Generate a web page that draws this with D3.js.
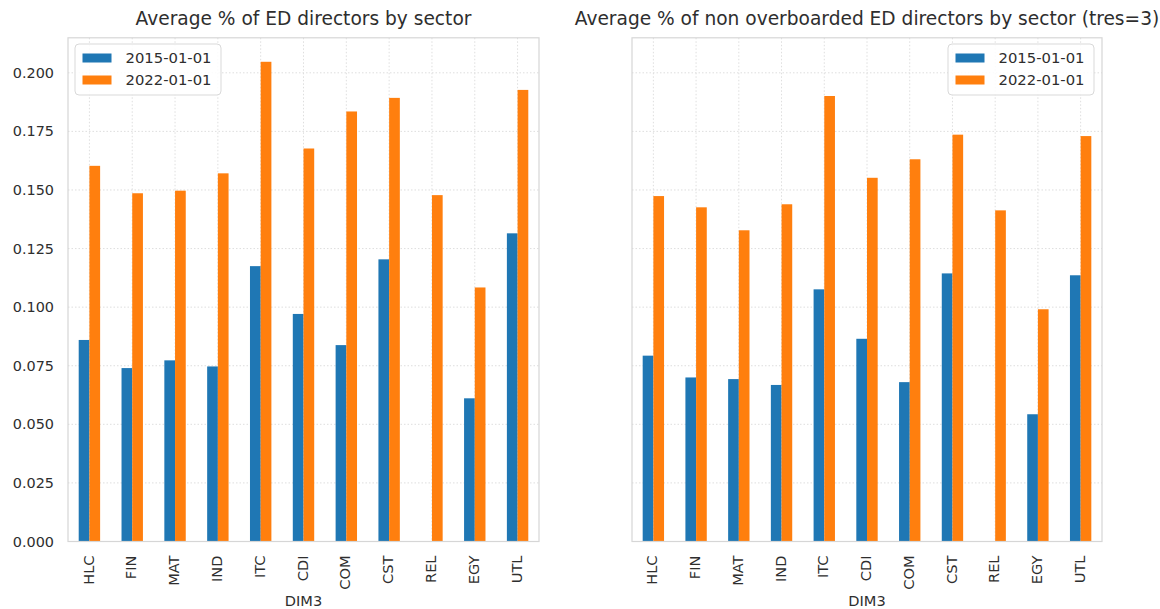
<!DOCTYPE html>
<html>
<head>
<meta charset="utf-8">
<script src="https://cdn.jsdelivr.net/npm/d3@7"></script>
<style>
  html, body { margin: 0; padding: 0; background: #fff; }
  svg text { font-family: "DejaVu Sans", sans-serif; fill: #2e2e2e; }
</style>
</head>
<body>
<svg id="chart" width="1160" height="609"></svg>
<script>
// Sector codes on the x axis
const sectors = ["HLC", "FIN", "MAT", "IND", "ITC", "CDI", "COM", "CST", "REL", "EGY", "UTL"];
const seriesNames = ["2015-01-01", "2022-01-01"];
const seriesColors = ["#1f77b4", "#ff7f0e"];

// Average share of ED directors (all directors)
const allDirectors2015 = [0.0860, 0.0740, 0.0773, 0.0747, 0.1175, 0.0971, 0.0838, 0.1204, null, 0.0611, 0.1315];
const allDirectors2022 = [0.1603, 0.1486, 0.1497, 0.1571, 0.2047, 0.1677, 0.1835, 0.1893, 0.1478, 0.1084, 0.1927];

// Average share of non overboarded ED directors (threshold 3)
const nonOverboarded2015 = [0.0793, 0.0700, 0.0693, 0.0668, 0.1076, 0.0865, 0.0680, 0.1144, null, 0.0543, 0.1136];
const nonOverboarded2022 = [0.1474, 0.1426, 0.1328, 0.1439, 0.1901, 0.1552, 0.1631, 0.1736, 0.1413, 0.0991, 0.1730];

const yTicks = [0, 0.025, 0.05, 0.075, 0.1, 0.125, 0.15, 0.175, 0.2];

const panels = [
  { title: "Average % of ED directors by sector", series: [allDirectors2015, allDirectors2022],
    x0: 68, x1: 539, showY: true, legend: "left" },
  { title: "Average % of non overboarded ED directors by sector (tres=3)", series: [nonOverboarded2015, nonOverboarded2022],
    x0: 632, x1: 1102, showY: false, legend: "right" }
];

const svg = d3.select("#chart");
const plotTop = 37.8, plotBottom = 541.5;

// Shared y scale (both panels use the same limits)
const dataMax = d3.max([allDirectors2015, allDirectors2022, nonOverboarded2015, nonOverboarded2022].flat());
const y = d3.scaleLinear().domain([0, dataMax * 1.05]).range([plotBottom, plotTop]);

panels.forEach(p => {
  const g = svg.append("g");
  const x = d3.scaleBand().domain(sectors).range([p.x0, p.x1]).paddingInner(0.5).paddingOuter(0.25);
  const xs = d3.scaleBand().domain(seriesNames).range([0, x.bandwidth()]);

  // grid lines
  g.append("g").selectAll("line").data(yTicks).join("line")
    .attr("x1", p.x0).attr("x2", p.x1)
    .attr("y1", d => y(d)).attr("y2", d => y(d))
    .attr("stroke", "#dedede").attr("stroke-width", 1).attr("stroke-dasharray", "1.5,2");
  g.append("g").selectAll("line").data(sectors).join("line")
    .attr("x1", d => x(d) + x.bandwidth() / 2).attr("x2", d => x(d) + x.bandwidth() / 2)
    .attr("y1", plotTop).attr("y2", plotBottom)
    .attr("stroke", "#dedede").attr("stroke-width", 1).attr("stroke-dasharray", "1.5,2");

  // bars
  p.series.forEach((vals, si) => {
    g.append("g").selectAll("rect")
      .data(sectors.map((s, i) => ({ s, v: vals[i] })).filter(d => d.v != null))
      .join("rect")
      .attr("x", d => x(d.s) + xs(seriesNames[si]))
      .attr("width", xs.bandwidth())
      .attr("y", d => y(d.v))
      .attr("height", d => y(0) - y(d.v))
      .attr("fill", seriesColors[si]);
  });

  // frame
  g.append("rect").attr("x", p.x0).attr("y", plotTop).attr("width", p.x1 - p.x0).attr("height", plotBottom - plotTop)
    .attr("fill", "none").attr("stroke", "#d6d6d6").attr("stroke-width", 1.2);

  // y axis labels
  if (p.showY) {
    const yAxis = d3.axisLeft(y).tickValues(yTicks).tickFormat(d3.format(".3f")).tickSize(0).tickPadding(14);
    const ya = g.append("g").attr("transform", `translate(${p.x0},0)`).call(yAxis);
    ya.select(".domain").remove();
    ya.selectAll("text").style("font-size", "14.4px").attr("fill", "#2e2e2e");
  }

  // x axis labels (rotated)
  const xAxis = d3.axisBottom(x).tickSize(0).tickPadding(0);
  const xa = g.append("g").attr("transform", `translate(0,${plotBottom})`).call(xAxis);
  xa.select(".domain").remove();
  xa.selectAll("text")
    .style("font-size", "14.6px").attr("fill", "#2e2e2e")
    .attr("text-anchor", "end")
    .attr("transform", "rotate(-90)")
    .attr("x", -14).attr("y", 0).attr("dy", "0.35em");
  xa.selectAll(".tick").attr("transform", d => `translate(${x(d) + x.bandwidth() / 2 - 1},0)`);

  // axis title
  g.append("text").attr("x", (p.x0 + p.x1) / 2).attr("y", 606)
    .attr("text-anchor", "middle").style("font-size", "14.6px").text("DIM3");

  // panel title
  g.append("text").attr("x", (p.x0 + p.x1) / 2).attr("y", 25)
    .attr("text-anchor", "middle").style("font-size", "18.6px").text(p.title);

  // legend
  const lx = p.legend === "left" ? 75 : 948;
  const lw = 146, ly = 44, lh = 51;
  const lg = g.append("g");
  lg.append("rect").attr("x", lx).attr("y", ly).attr("width", lw).attr("height", lh)
    .attr("rx", 4).attr("fill", "#fff").attr("fill-opacity", 0.85)
    .attr("stroke", "#d9d9d9").attr("stroke-width", 1);
  seriesNames.forEach((name, i) => {
    const cy = ly + 14 + i * 22;
    lg.append("rect").attr("x", lx + 7.5).attr("y", cy - 4.5).attr("width", 29).attr("height", 9)
      .attr("fill", seriesColors[i]);
    lg.append("text").attr("x", lx + 50.5).attr("y", cy).attr("dy", "0.35em")
      .style("font-size", "14.8px").text(name);
  });
});
</script>
</body>
</html>
